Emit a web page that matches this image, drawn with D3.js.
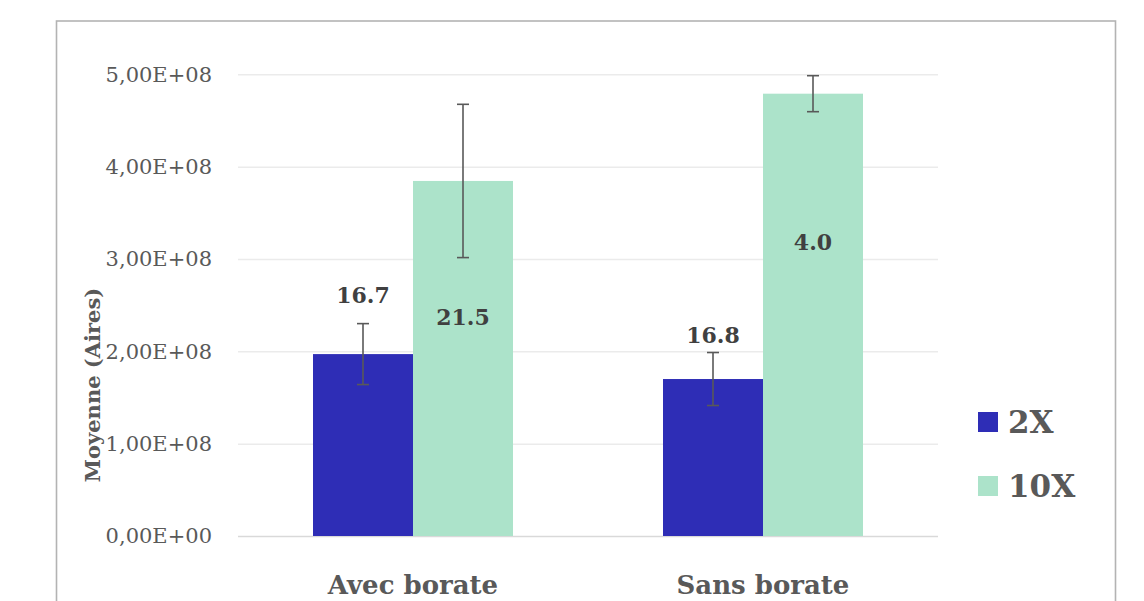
<!DOCTYPE html>
<meta charset="utf-8">
<head>
<style>
body { margin: 0; background: #fff; }
text { font-family: "DejaVu Serif", "Liberation Serif", serif; }
.tick text { fill: #595959; }
</style>
</head>
<body>
<script src="https://cdnjs.cloudflare.com/ajax/libs/d3/7.8.5/d3.min.js"></script>
<script>
//---------------------------- DATA ----------------------------//
var categories = ["Avec borate", "Sans borate"];
var series = ["2X", "10X"];
var means2X = [1.97e8, 1.70e8];
var means10X = [3.845e8, 4.79e8];
var err2X = [0.33e8, 0.287e8];
var err10X = [0.83e8, 0.195e8];
var labels2X = ["16.7", "16.8"];
var labels10X = ["21.5", "4.0"];
var yTicks = [0, 1e8, 2e8, 3e8, 4e8, 5e8];

// where Excel put the data labels, in axis units
var labelAt2X = [2.52e8, 2.09e8];
var labelAt10X = [2.29e8, 3.10e8];

var colors = {"2X": "#2E2DB6", "10X": "#ACE3CA"};

//--------------------------- LAYOUT ---------------------------//
var width = 1144, height = 601;
var plotLeft = 238, plotRight = 938;
var yTop = 74.3, yBottom = 536;

var svg = d3.select("body").append("svg")
    .attr("width", width)
    .attr("height", height);

// chart frame (bottom edge runs off the picture)
svg.append("rect")
    .attr("x", 56.5).attr("y", 21)
    .attr("width", 1059).attr("height", 620)
    .attr("fill", "none")
    .attr("stroke", "#b3b3b3")
    .attr("stroke-width", 1.6);

var rows = categories.map(function(c, i) {
    return {
        cat: c,
        bars: [
            {s: "2X", v: means2X[i], e: err2X[i], lab: labels2X[i], at: labelAt2X[i]},
            {s: "10X", v: means10X[i], e: err10X[i], lab: labels10X[i], at: labelAt10X[i]}
        ]
    };
});

//---------------------------- SCALES --------------------------//
var x0 = d3.scaleBand()
    .domain(categories)
    .range([plotLeft, plotRight])
    .paddingInner(3 / 7)
    .paddingOuter(3 / 14);

var x1 = d3.scaleBand()
    .domain(series)
    .range([0, x0.bandwidth()]);

var y = d3.scaleLinear()
    .domain([0, 5e8])
    .range([yBottom, yTop]);

function sciFr(d) {
    if (d === 0) return "0,00E+00";
    var exp = Math.floor(Math.log10(d));
    var m = d / Math.pow(10, exp);
    return m.toFixed(2).replace(".", ",") + "E+" + (exp < 10 ? "0" : "") + exp;
}

//----------------------------- AXES ---------------------------//
var yaxis = d3.axisLeft(y)
    .tickValues(yTicks)
    .tickSize(-(plotRight - plotLeft))
    .tickPadding(26)
    .tickFormat(sciFr);

var gy = svg.append("g")
    .attr("transform", "translate(" + plotLeft + ",0)")
    .call(yaxis);
gy.select(".domain").remove();
gy.selectAll(".tick line")
    .attr("stroke", function(d) { return d === 0 ? "#d9d9d9" : "#ebebeb"; })
    .attr("stroke-width", 1.5);
gy.selectAll(".tick text")
    .style("font-size", "21px")
    .attr("fill", "#595959");

var xaxis = d3.axisBottom(x0).tickSize(0).tickPadding(40);
var gx = svg.append("g")
    .attr("transform", "translate(0," + yBottom + ")")
    .call(xaxis);
gx.select(".domain").remove();
gx.selectAll(".tick text")
    .style("font-size", "26px")
    .style("font-weight", "bold")
    .attr("fill", "#595959");

svg.append("text")
    .attr("transform", "translate(100,385) rotate(-90)")
    .attr("text-anchor", "middle")
    .style("font-size", "21px")
    .style("font-weight", "bold")
    .attr("fill", "#595959")
    .text("Moyenne (Aires)");

//----------------------------- BARS ---------------------------//
var groups = svg.selectAll(".grp")
    .data(rows)
    .enter()
    .append("g")
    .attr("class", "grp")
    .attr("transform", function(d) { return "translate(" + x0(d.cat) + ",0)"; });

var bars = groups.selectAll(".bar")
    .data(function(d) { return d.bars; })
    .enter()
    .append("g")
    .attr("class", "bar");

bars.append("rect")
    .attr("x", function(d) { return x1(d.s); })
    .attr("y", function(d) { return y(d.v); })
    .attr("width", x1.bandwidth())
    .attr("height", function(d) { return y(0) - y(d.v); })
    .attr("fill", function(d) { return colors[d.s]; });

// error bars
var capW = 6;
bars.append("line")
    .attr("x1", function(d) { return x1(d.s) + x1.bandwidth() / 2; })
    .attr("x2", function(d) { return x1(d.s) + x1.bandwidth() / 2; })
    .attr("y1", function(d) { return y(d.v + d.e); })
    .attr("y2", function(d) { return y(d.v - d.e); });
bars.append("line")
    .attr("x1", function(d) { return x1(d.s) + x1.bandwidth() / 2 - capW; })
    .attr("x2", function(d) { return x1(d.s) + x1.bandwidth() / 2 + capW; })
    .attr("y1", function(d) { return y(d.v + d.e); })
    .attr("y2", function(d) { return y(d.v + d.e); });
bars.append("line")
    .attr("x1", function(d) { return x1(d.s) + x1.bandwidth() / 2 - capW; })
    .attr("x2", function(d) { return x1(d.s) + x1.bandwidth() / 2 + capW; })
    .attr("y1", function(d) { return y(d.v - d.e); })
    .attr("y2", function(d) { return y(d.v - d.e); });
bars.selectAll("line")
    .attr("stroke", "#595959")
    .attr("stroke-width", 1.6);

bars.append("text")
    .attr("x", function(d) { return x1(d.s) + x1.bandwidth() / 2; })
    .attr("y", function(d) { return y(d.at); })
    .attr("text-anchor", "middle")
    .style("font-size", "22px")
    .style("font-weight", "bold")
    .attr("fill", "#404040")
    .text(function(d) { return d.lab; });

//---------------------------- LEGEND --------------------------//
var legend = svg.selectAll(".leg")
    .data(series)
    .enter()
    .append("g")
    .attr("class", "leg")
    .attr("transform", function(d, i) { return "translate(978," + (412 + i * 64) + ")"; });

legend.append("rect")
    .attr("width", 20)
    .attr("height", 20)
    .attr("fill", function(d) { return colors[d]; });

legend.append("text")
    .attr("x", 30)
    .attr("y", 21)
    .style("font-size", "31px")
    .style("font-weight", "bold")
    .attr("fill", "#595959")
    .text(function(d) { return d; });
</script>
</body>
</html>
